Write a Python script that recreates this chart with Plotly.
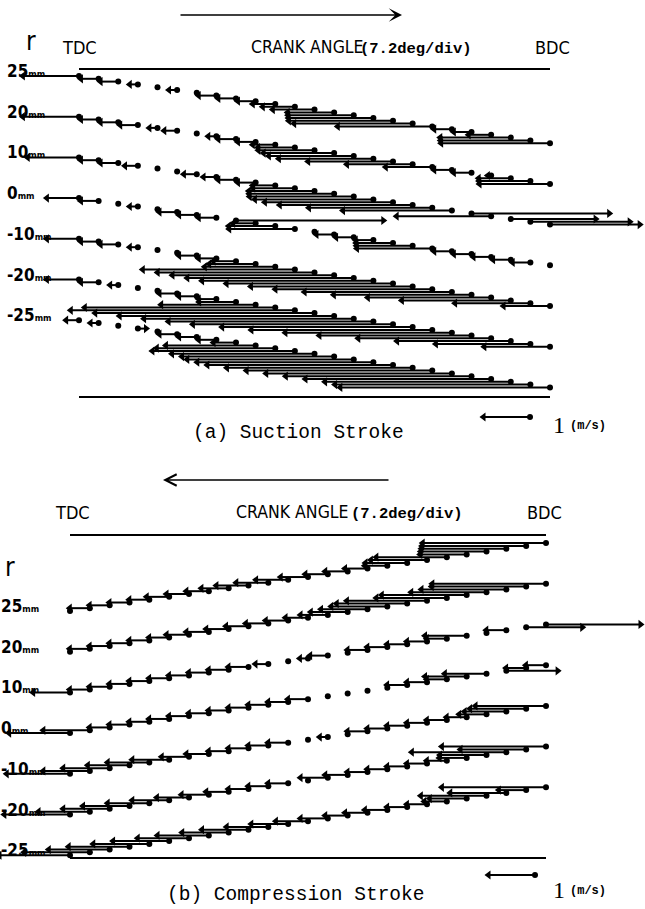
import plotly.graph_objects as go

W, H = 645, 909

# ---------------- data ----------------
RADII = ["25", "20", "10", "0", "-10", "-20", "-25"]          # r (mm), top to bottom
CRANK_DIV = list(range(25))                                   # crank positions, 7.2 deg/div
DEG_PER_DIV = 7.2

# (a) Suction stroke: axial velocity u (m/s) at each crank position, negative = pointing left
SUC_25 = [-1.2, -0.4, -0.4, -0.2, 0.0, -0.2, 0.0, -0.4, -0.4, -0.4, -0.5, -0.7, -0.9, -1.0, -1.4, -1.8, -2.2, -2.5, -2.0, -0.4, -0.4, -0.5, -1.5, -1.9, -2.3]
SUC_20 = [-1.2, -0.4, -0.4, -0.4, -0.2, -0.3, 0.0, -0.2, -0.4, -0.4, -0.5, -0.8, -1.2, -1.5, -1.8, -2.0, -1.8, -1.4, -1.0, -0.4, -0.4, -0.1, -0.7, -1.1, -1.5]
SUC_10 = [-1.1, -0.4, -0.4, -0.3, 0.0, 0.0, -0.3, -0.3, -0.4, -0.4, -0.5, -0.9, -1.4, -1.8, -2.2, -2.5, -2.7, -2.8, -2.6, -2.3, 2.9, -2.0, 1.8, 2.1, 1.9]
SUC_0 = [-0.7, -0.4, 0.0, -0.2, 0.0, -0.4, -0.4, -0.4, 3.1, -0.5, -1.0, -1.4, 0.0, -0.4, -0.4, -0.4, -0.8, -1.2, -1.6, -0.4, -0.4, -0.4, -0.4, -0.4, 0.0]
SUC_M10 = [-0.7, -0.4, -0.4, -0.2, 0.0, 0.0, -0.4, -0.4, -0.5, -1.0, -1.5, -3.2, -3.3, -3.4, -3.5, -3.6, -3.5, -3.4, -3.3, -3.1, -2.9, -2.6, -2.3, -1.6, -1.0]
SUC_M20 = [-0.7, -0.4, -0.2, 0.0, 0.0, -0.4, -0.4, -0.4, -0.8, -2.0, -4.0, -4.7, -4.6, -4.5, -4.4, -4.3, -4.2, -4.0, -3.8, -3.5, -3.2, -2.8, -2.4, -2.0, -1.4]
SUC_M25 = [-0.3, -0.2, 0.0, 0.2, 0.0, -0.4, -0.4, -0.4, -0.5, -1.9, -2.5, -3.0, -3.0, -3.2, -3.5, -3.7, -3.9, -3.9, -3.9, -3.9, -3.9, -3.9, -3.9, -4.1, -4.4]

# (b) Compression stroke
COMP_25 = [0.0, -0.45, -0.45, -0.45, -0.45, -0.5, -0.5, -0.5, -0.6, -0.7, -0.7, -0.7, -0.6, -0.5, -0.5, -0.5, -0.5, -0.9, -1.2, -1.5, -1.0, -1.4, -1.8, -2.2, -2.6]
COMP_20 = [0.0, -0.45, -0.45, -0.45, -0.45, -0.45, -0.5, -0.5, -0.5, -0.5, -0.5, -0.5, -0.5, -0.6, -0.8, -1.0, -1.2, -1.5, -1.7, -1.5, -1.8, -1.6, -1.8, -2.0, -2.4]
COMP_10 = [-0.8, -0.45, -0.45, -0.45, -0.45, -0.45, -0.45, -0.45, -0.45, -0.45, -0.3, 0.0, -0.2, -0.4, 0.0, -0.45, -0.45, -0.45, -0.45, -0.45, -0.9, 0.0, -0.45, 1.2, 2.0]
COMP_0 = [-1.3, -1.0, -0.45, -0.45, -0.45, -0.45, -0.45, -0.45, -0.45, -0.45, -0.45, -0.45, -0.45, 0.0, 0.0, 0.0, 0.0, -0.45, -0.45, -0.45, -0.9, -0.9, 1.1, -0.45, -0.45]
COMP_M10 = [-1.35, -1.0, -1.0, -0.9, -0.9, -0.8, -0.6, -0.5, -0.45, -0.45, -0.45, -0.45, 0.0, -0.2, 0.0, -0.45, -0.45, -0.45, -0.45, -0.45, -0.45, -0.6, -0.9, -1.2, -1.5]
COMP_M20 = [-1.4, -1.1, -1.0, -1.0, -0.9, -0.8, -0.7, -0.6, -0.5, -0.45, -0.45, -0.45, 0.0, -0.6, -0.5, -0.45, -0.45, -0.45, -0.45, -0.45, -0.6, -1.0, -2.0, -1.4, -2.2]
COMP_M25 = [-1.5, -1.4, -1.3, -1.3, -1.2, -1.2, -1.1, -1.1, -1.0, -1.0, -0.9, -0.8, -0.7, -0.6, -0.5, -0.5, -0.5, -0.45, -0.45, -0.5, -0.8, -1.4, -1.2, -0.6, -2.2]

SUCTION = [SUC_25, SUC_20, SUC_10, SUC_0, SUC_M10, SUC_M20, SUC_M25]
COMPRESSION = [COMP_25, COMP_20, COMP_10, COMP_0, COMP_M10, COMP_M20, COMP_M25]

# ---------------- layout constants (pixels) ----------------
MS_PX = 48.0   # length of 1 m/s vector
PANEL_A = dict(x0=79, x1=550, row0=76, gap=40.7, drift=2.8, xaxis="x",
               top=69, bottom=397, head_y=47, arrow_y=15, arrow=(179, 402), r_pos=(31, 41),
               tdc=79, crank=250, div=359, bdc=552, scale_tail=(530, 417), scale_txt_y=425,
               title="(a) Suction Stroke", title_y=433, title_x=298, label_x=6)
PANEL_B = dict(x0=70, x1=546, row0=611, gap=40.7, drift=-2.83, xaxis="x2",
               top=535, bottom=858, head_y=512, arrow_y=480, arrow=(390, 163), r_pos=(10, 567),
               tdc=72, crank=235, div=350, bdc=544, scale_tail=(535, 875), scale_txt_y=890,
               title="(b) Compression Stroke", title_y=895, title_x=295, label_x=0)

NARROW = "Liberation Sans Narrow, DejaVu Sans Condensed, Arial Narrow, Liberation Sans, sans-serif"
MONO = "Liberation Mono, DejaVu Sans Mono, monospace"
SERIF = "Liberation Serif, DejaVu Serif, serif"

fig = go.Figure()
annotations = []
shapes = []


def px2paper(x, y):
    return x / W, 1 - y / H


def ppd(P):
    return (P["x1"] - P["x0"]) / (CRANK_DIV[-1] * DEG_PER_DIV)


def add_vectors(P, rows):
    k_ppd = ppd(P)
    deg_per_ms = MS_PX / k_ppd
    lx, ly, hlx, hly, hrx, hry, tx, ty = [], [], [], [], [], [], [], []
    for k, uvals in enumerate(rows):
        for i, u in zip(CRANK_DIV, uvals):
            xt = i * DEG_PER_DIV
            yt = P["row0"] + k * P["gap"] + P["drift"] * i
            tx.append(xt)
            ty.append(yt)
            if abs(u) >= 0.05:
                xh = xt + u * deg_per_ms
                lx += [xt, xh, None]
                ly += [yt, yt, None]
                if u < 0:
                    hlx.append(xh + 1.5 / k_ppd)
                    hly.append(yt)
                else:
                    hrx.append(xh - 1.5 / k_ppd)
                    hry.append(yt)
    # scale vector (1 m/s, pointing left)
    sx = (P["scale_tail"][0] - P["x0"]) / k_ppd
    sy = P["scale_tail"][1]
    lx += [sx, sx - deg_per_ms, None]
    ly += [sy, sy, None]
    hlx.append(sx - deg_per_ms + 1.5 / k_ppd)
    hly.append(sy)
    tx.append(sx)
    ty.append(sy)

    common = dict(xaxis=P["xaxis"], yaxis="y", hoverinfo="skip", showlegend=False)
    fig.add_trace(go.Scatter(x=lx, y=ly, mode="lines", line=dict(color="black", width=2.0), **common))
    fig.add_trace(go.Scatter(x=hlx, y=hly, mode="markers",
                             marker=dict(symbol="triangle-left", size=8, color="black"), **common))
    fig.add_trace(go.Scatter(x=hrx, y=hry, mode="markers",
                             marker=dict(symbol="triangle-right", size=8, color="black"), **common))
    fig.add_trace(go.Scatter(x=tx, y=ty, mode="markers",
                             marker=dict(symbol="circle", size=6, color="black"), **common))

    # axis lines
    for yl in (P["top"], P["bottom"]):
        shapes.append(dict(type="line", xref=P["xaxis"], yref="y",
                           x0=0, x1=CRANK_DIV[-1] * DEG_PER_DIV, y0=yl, y1=yl,
                           line=dict(color="black", width=2)))


def text(t, x, y, size, family, xanchor="left", color="black"):
    xp, yp = px2paper(x, y)
    annotations.append(dict(text=t, x=xp, y=yp, xref="paper", yref="paper", showarrow=False,
                            xanchor=xanchor, yanchor="middle", borderpad=0,
                            font=dict(size=size, family=family, color=color)))


def decorate(P):
    # direction arrow of time
    tail, head = P["arrow"]
    hx, hy = px2paper(head, P["arrow_y"])
    annotations.append(dict(text="", x=hx, y=hy, xref="paper", yref="paper", showarrow=True,
                            ax=tail - head, ay=0, arrowhead=3 if head > tail else 5,
                            arrowsize=1.3, arrowwidth=1.7, arrowcolor="black", standoff=0))
    text("r", P["r_pos"][0], P["r_pos"][1], 26, NARROW, "center")
    text("TDC", P["tdc"], P["head_y"], 18, NARROW, "center")
    text("CRANK ANGLE", P["crank"], P["head_y"], 17.5, NARROW)
    text("<b>(7.2deg/div)</b>", P["div"], P["head_y"] + 2, 15.5, MONO)
    text("BDC", P["bdc"], P["head_y"], 18, NARROW, "center")
    for k, r in enumerate(RADII):
        ry = P["row0"] + k * P["gap"] - 5
        text("<b>" + r + "</b><span style='font-size:9px'><b>mm</b></span>", P["label_x"], ry, 17, NARROW)
    text(P["title"], P["title_x"], P["title_y"], 19.5, MONO, "center")
    text("1", 552, P["scale_txt_y"], 24, SERIF)
    text("<b>(m/s)</b>", 569, P["scale_txt_y"] + 1, 12, MONO)


add_vectors(PANEL_A, SUCTION)
add_vectors(PANEL_B, COMPRESSION)
decorate(PANEL_A)
decorate(PANEL_B)


def xr(P):
    k = ppd(P)
    return [-P["x0"] / k, (W - P["x0"]) / k]


fig.update_layout(
    width=W, height=H,
    margin=dict(l=0, r=0, t=0, b=0),
    paper_bgcolor="white", plot_bgcolor="white",
    xaxis=dict(range=xr(PANEL_A), visible=False, domain=[0, 1], fixedrange=True),
    xaxis2=dict(range=xr(PANEL_B), visible=False, overlaying="x", fixedrange=True),
    yaxis=dict(range=[H, 0], visible=False, domain=[0, 1], fixedrange=True),
    annotations=annotations,
    shapes=shapes,
    showlegend=False,
)

fig.write_html("out.html", config={"displayModeBar": False},
               post_script="document.body.style.margin='0px';document.body.style.overflow='hidden';")
